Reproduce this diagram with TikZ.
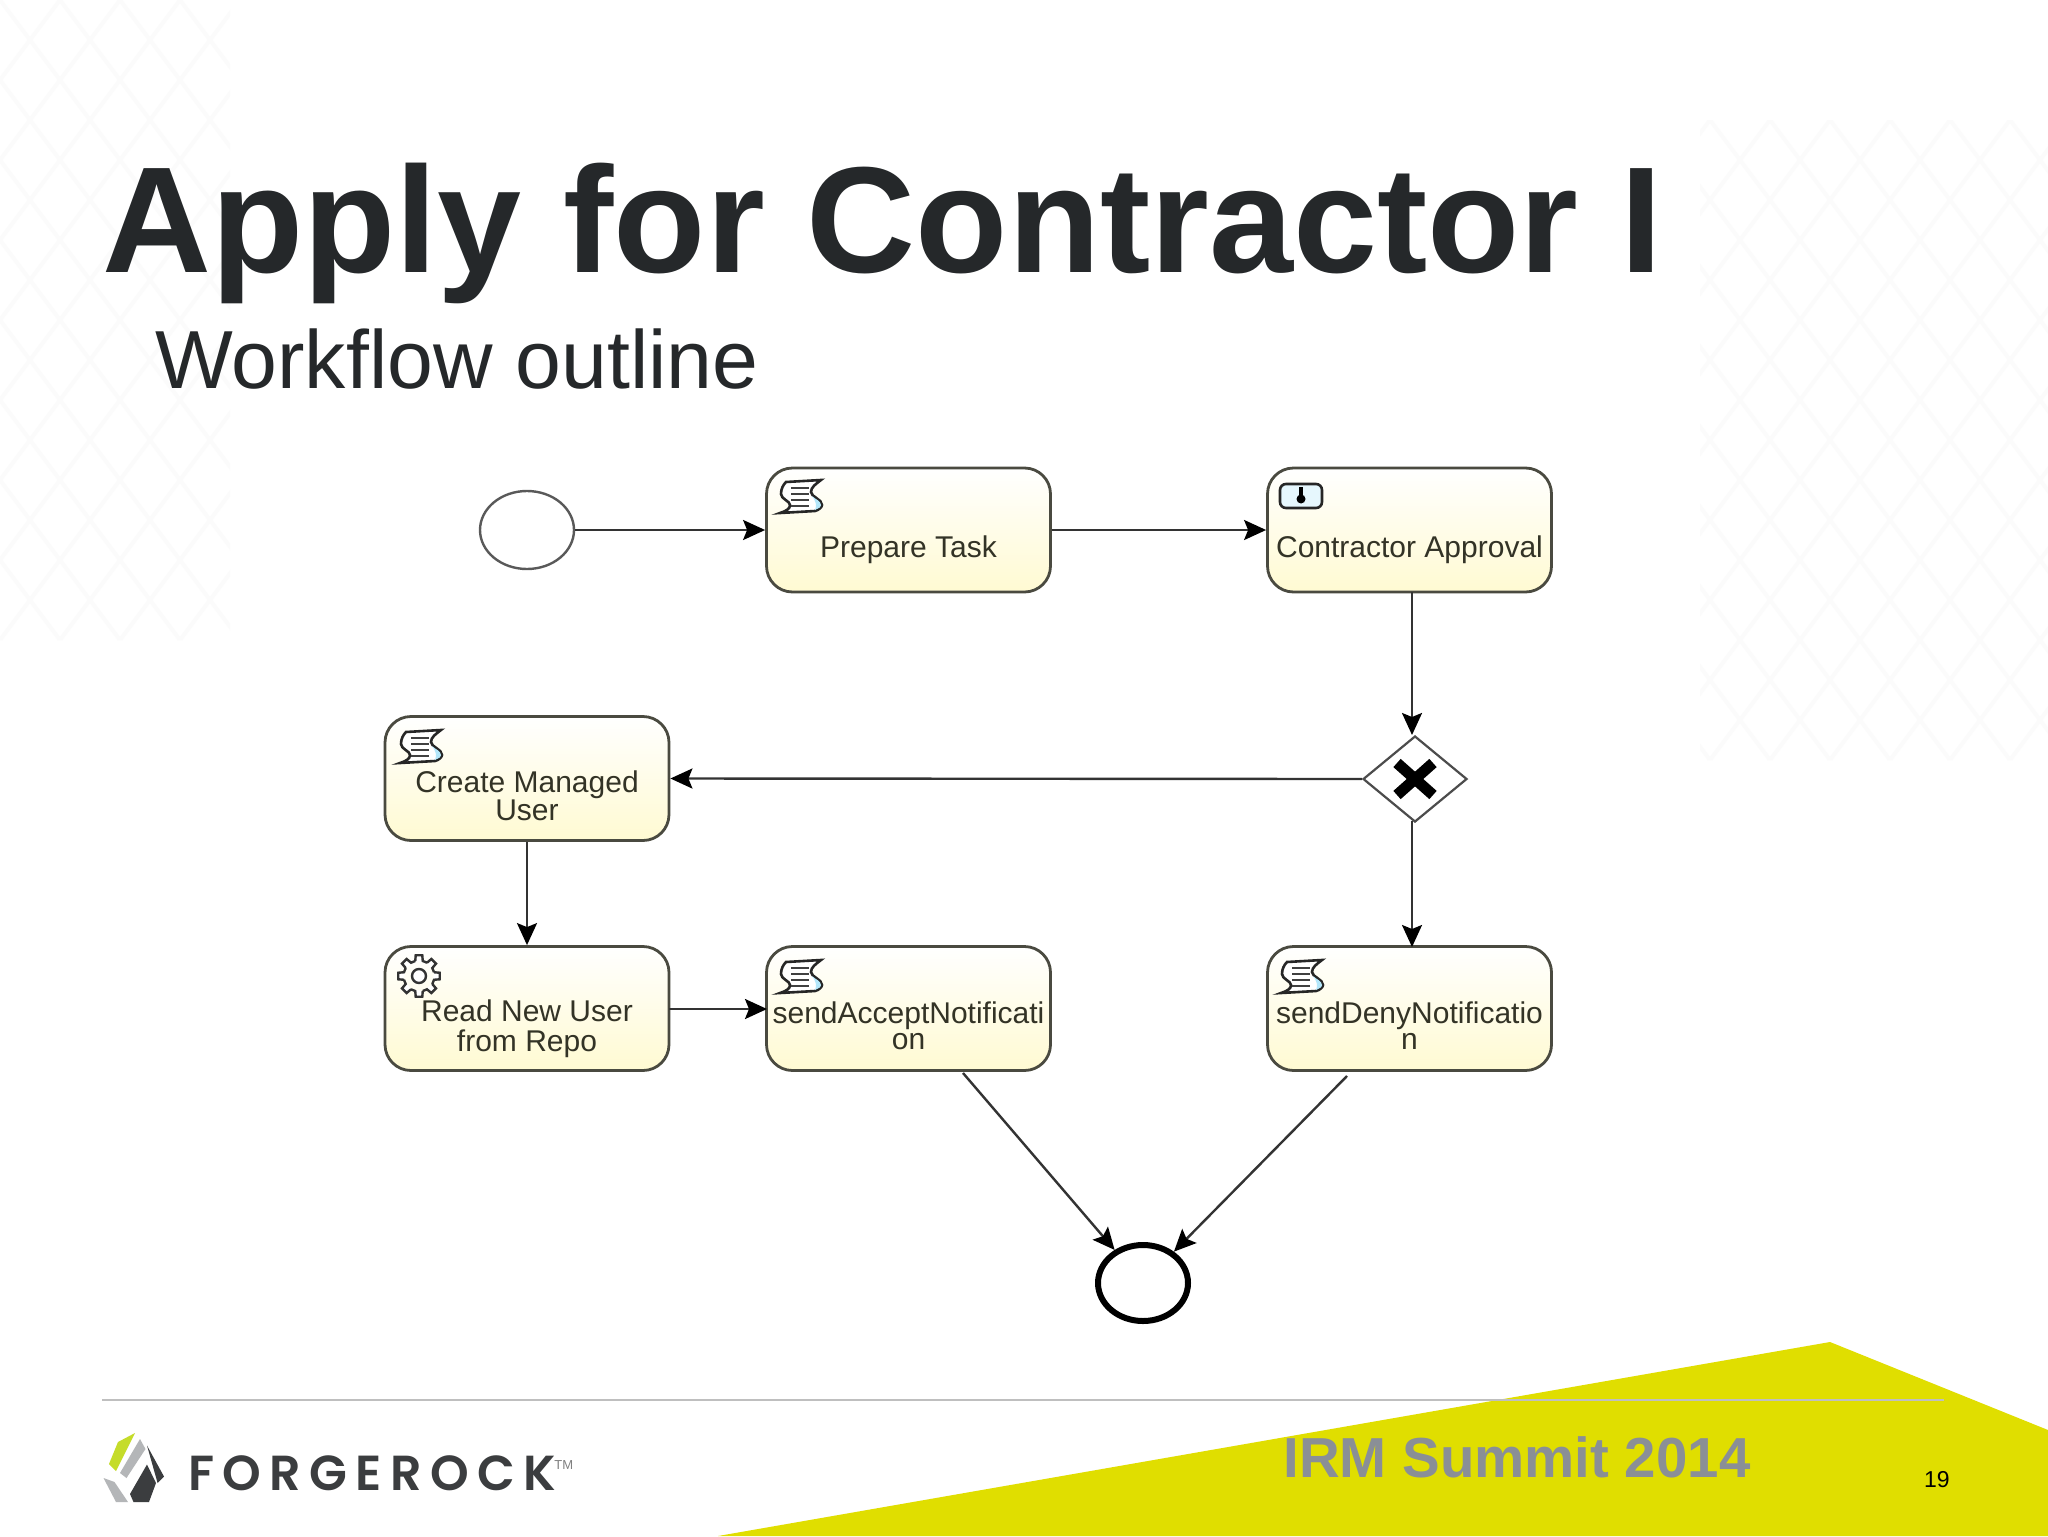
\documentclass[tikz,border=0pt]{standalone}
\usepackage{fontspec}
\setmainfont{Liberation Sans}
\newfontfamily\logofont[LetterSpace=17]{Poppins SemiBold}
\usetikzlibrary{arrows.meta,shapes.geometric}
\definecolor{slidetext}{HTML}{25282A}
\definecolor{limefield}{HTML}{E0DE00}
\definecolor{boxedge}{HTML}{4A4A40}
\definecolor{boxlow}{HTML}{FFFAD2}
\definecolor{tasktext}{HTML}{333326}
\definecolor{summit}{HTML}{8A8F96}
\definecolor{lattice}{HTML}{FBFBFB}
\definecolor{logolime}{HTML}{C5DC2A}
\definecolor{logogray}{HTML}{B4B6B8}
\newcommand\tasklabel[1]{\raisebox{-14pt}[0pt][0pt]{\fontsize{15}{13}\selectfont\begin{tabular}{@{}c@{}}#1\end{tabular}}}
\tikzset{
  taskbox/.style={draw=boxedge,line width=1.4pt,rounded corners=13pt,top color=white,bottom color=boxlow,
    minimum width=142pt,minimum height=62pt,inner sep=0pt,text=tasktext},
  flow/.style={draw=black!80,line width=1.2pt,-{Stealth[length=11pt,width=10pt,inset=2pt,black]}},
  scripticon/.pic={
    \draw[line width=1.3pt,fill=white,draw=black!85]
      (-15,-15) -- (20,-17)
      .. controls (15,-13) and (10,-10) .. (10,-5)
      .. controls (10,0) and (21,2) .. (21,8)
      .. controls (21,10) and (18,13) .. (14,14)
      -- (-21,16)
      .. controls (-15,14) and (-11,12) .. (-11,8)
      .. controls (-11,4) and (-20,2) .. (-20,-3)
      .. controls (-20,-8) and (-18,-12) .. (-15,-15) -- cycle;
    \fill[cyan!30] (11,-1) .. controls (14,2) and (20,4) .. (20,8) .. controls (20,10) and (17,12) .. (14,13) .. controls (16,9) and (15,4) .. (11,-1) -- cycle;
    \foreach \yy in {-9,-3,3,9} \draw[line width=1.3pt,draw=black!75] (-10,\yy) -- (8,\yy);
  },
  geariconpic/.pic={
    \draw[line width=1.2pt,draw=black!80,fill=white]
      \foreach \aa in {0,45,...,315}{
        (\aa-14:15.5) -- (\aa-9:21) -- (\aa+9:21) -- (\aa+14:15.5) arc[start angle=\aa+14,end angle=\aa+31,radius=15.5]
      };
    \draw[line width=1.2pt,draw=black!80,fill=white] (0,0) circle[radius=7];
  },
  usericon/.pic={
    \draw[line width=1.3pt,draw=black!85,fill=cyan!10,rounded corners=3pt] (-21,-12) rectangle (21,12);
    \fill[black] (0,3) circle[radius=4.5];
    \fill[black] (-2,-9) rectangle (2,2);
  },
}
\begin{document}
\begin{tikzpicture}[x=0.5pt,y=-0.5pt]
\useasboundingbox (0,0) rectangle (2048,1536);
\fill[white] (0,0) rectangle (2048,1536);
% faint lattice of the slide background
\begin{scope}
\clip (0,0) rectangle (230,640) (1700,120) rectangle (2048,760);
\foreach \kk in {-20,...,40}{
  \draw[lattice,line width=2pt] (\kk*60,0) -- (\kk*60+600,800);
  \draw[lattice,line width=2pt] (\kk*60+600,0) -- (\kk*60,800);
}
\end{scope}
\fill[limefield] (718,1536) -- (1830,1342) -- (2048,1430) -- (2048,1536) -- cycle;
\draw[black!25,line width=0.7pt] (102,1400) -- (1944,1400);

\node[anchor=base west,inner sep=0pt,text=slidetext,font=\fontsize{75.5}{75.5}\selectfont\bfseries] (title) at (102,272) {Apply for Contractor I};
\node[anchor=base west,inner sep=0pt,text=slidetext,font=\fontsize{41.2}{41.2}\selectfont] (subtitle) at (155,388) {Workflow outline};

\node[taskbox] (prepare) at (908.5,530) {\tasklabel{Prepare Task}};
\node[taskbox] (approval) at (1409.5,530) {\tasklabel{Contractor Approval}};
\node[taskbox] (create) at (527,778.5) {\tasklabel{Create Managed\\User}};
\node[taskbox] (read) at (527,1008.5) {\tasklabel{Read New User\\from Repo}};
\node[taskbox] (accept) at (908.5,1008.5) {\tasklabel{sendAcceptNotificati\\on}};
\node[taskbox] (deny) at (1409.5,1008.5) {\tasklabel{sendDenyNotificatio\\n}};
\node[draw=black!65,line width=1.2pt,fill=white,ellipse,minimum width=47pt,minimum height=39pt,inner sep=0pt] (start) at (527,530) {};
\node[draw=black!70,line width=1.1pt,fill=white,diamond,minimum width=52pt,minimum height=43pt,inner sep=0pt] (gate) at (1415,779) {};
\node[draw=black,line width=3pt,fill=white,ellipse,minimum width=45pt,minimum height=38pt,inner sep=0pt] (finish) at (1143,1283) {};

\draw[black,line width=5.5pt] (1397,763) -- (1433,795) (1433,763) -- (1397,795);

\pic at (801,497) {scripticon};
\pic at (421,747) {scripticon};
\pic at (801,977) {scripticon};
\pic at (1302,977) {scripticon};
\pic at (419,976) {geariconpic};
\pic at (1301,496) {usericon};

\coordinate (approvalout) at (1412,592);
\coordinate (denyin) at (1412,947);
\coordinate (gatein) at (1412,735);
\coordinate (gateout) at (1412,821);
\coordinate (acceptout) at (963,1073);
\coordinate (denyout) at (1347,1076);
\coordinate (readout) at (669,1009);
\coordinate (acceptin) at (767,1009);

\draw[flow] (start) -- (prepare.west);
\draw[flow] (prepare.east) -- (approval.west);
\draw[flow] (approvalout) -- (gatein);
\draw[flow] (gate.west) -- (create.east);
\draw[flow] (gateout) -- (denyin);
\draw[flow] (create.south) -- (read.north);
\draw[flow] (readout) -- (acceptin);
\draw[flow] (acceptout) -- (finish);
\draw[flow] (denyout) -- (finish);

\node[anchor=base west,inner sep=0pt,text=summit,font=\fontsize{28.2}{28.2}\selectfont\bfseries] (irm) at (1283,1477) {IRM Summit 2014};
\node[anchor=base east,inner sep=0pt,text=black,font=\fontsize{11.5}{11.5}\selectfont] (page) at (1950,1487) {19};

% logo
\fill[logogray] (103.5,1478) -- (114.5,1482) -- (128,1502) -- (116,1502) -- cycle;
\fill[logogray] (120,1473) -- (140,1439) -- (145.5,1449) -- (126.5,1478) -- cycle;
\fill[logolime] (109,1464) -- (118,1442) -- (135,1433) -- (116,1471) -- cycle;
\fill[slidetext!90] (130,1494) -- (147,1464.5) -- (156,1483) -- (149,1502) -- (133.5,1502) -- cycle;
\fill[slidetext!90] (147,1445.5) -- (164,1476.5) -- (157.6,1483) -- cycle;
\node[anchor=base west,inner sep=0pt,text=slidetext!90,font=\logofont\fontsize{24.6}{24.6}\selectfont] (logotext) at (188,1490) {FORGEROCK};
\node[anchor=base west,inner sep=0pt,text=black!50,font=\fontsize{6.5}{6.5}\selectfont] (logotm) at (554,1469) {TM};
\end{tikzpicture}
\end{document}
